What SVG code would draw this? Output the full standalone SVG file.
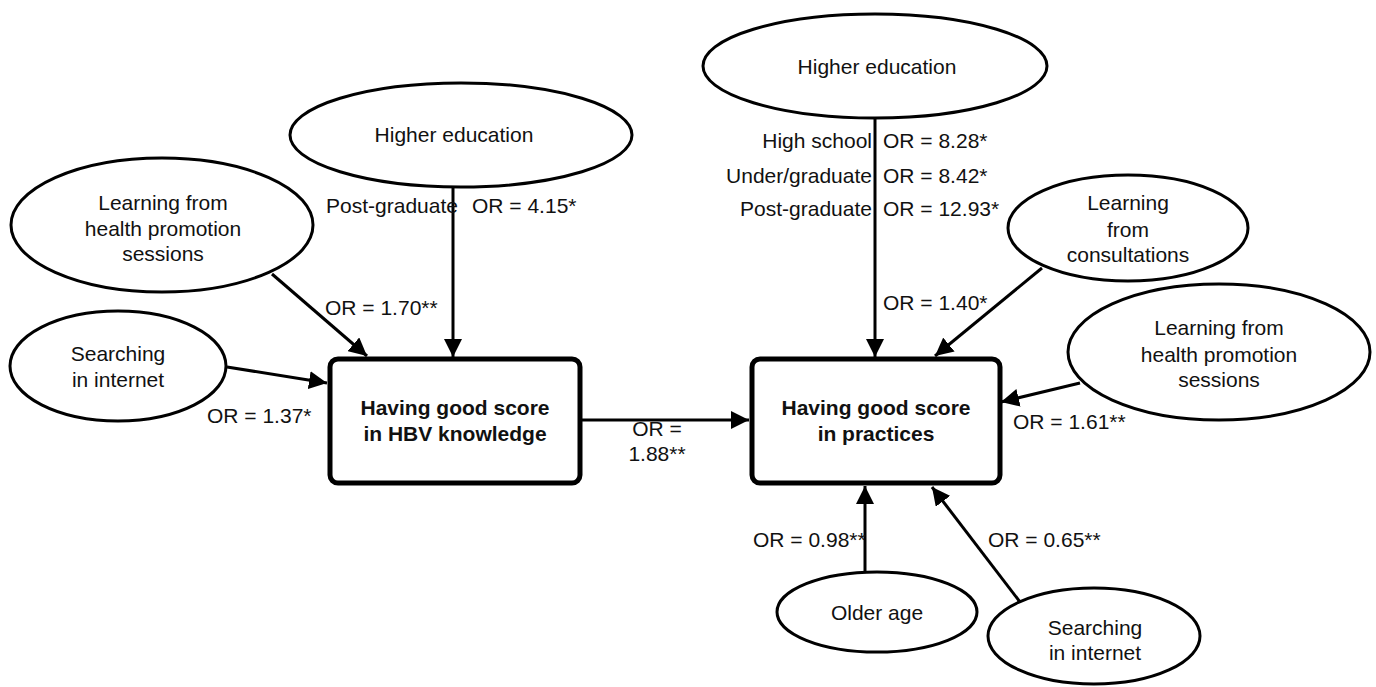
<svg xmlns="http://www.w3.org/2000/svg" width="1376" height="687" viewBox="0 0 1376 687">
<style>
.t{font-family:"Liberation Sans",Arial,sans-serif;font-size:21px;fill:#111;}
.c{text-anchor:middle;}
.e{text-anchor:end;}
.b{font-weight:bold;}
.el{fill:#fff;stroke:#000;stroke-width:3;}
.bx{fill:#fff;stroke:#000;stroke-width:5;}
.ln{stroke:#000;stroke-width:3;fill:none;marker-end:url(#arr);}
</style>
<defs>
<marker id="arr" markerUnits="userSpaceOnUse" markerWidth="18" markerHeight="18" viewBox="0 0 16 16" refX="16" refY="8" orient="auto">
<path d="M0,0 L16,8 L0,16 z" fill="#000"/>
</marker>
</defs>
<rect width="1376" height="687" fill="#fff"/>
<g id="connectors">
<line class="ln" x1="453" y1="187" x2="453" y2="357"/>
<line class="ln" x1="272" y1="274" x2="367" y2="356"/>
<line class="ln" x1="227" y1="367" x2="327" y2="383"/>
<line class="ln" x1="582" y1="420" x2="749" y2="420"/>
<line class="ln" x1="875" y1="118" x2="875" y2="357"/>
<line class="ln" x1="1042" y1="268" x2="935" y2="356"/>
<line class="ln" x1="1080" y1="383" x2="1001" y2="402"/>
<line class="ln" x1="865" y1="572" x2="865" y2="486"/>
<line class="ln" x1="1020" y1="602" x2="932" y2="487"/>
</g>
<g id="leftHE"><ellipse class="el" cx="461" cy="135" rx="171" ry="52"/><text class="t c" x="454" y="142">Higher education</text></g>
<g id="leftHP"><ellipse class="el" cx="162" cy="225" rx="151" ry="67"/><text class="t c" x="163" y="210">Learning from</text><text class="t c" x="163" y="236">health promotion</text><text class="t c" x="163" y="261">sessions</text></g>
<g id="leftSearch"><ellipse class="el" cx="118" cy="366" rx="108" ry="55"/><text class="t c" x="118" y="361">Searching</text><text class="t c" x="118" y="387">in internet</text></g>
<g id="knowledge"><rect class="bx" x="330" y="359" width="250" height="124" rx="8"/><text class="t c b" x="455" y="415">Having good score</text><text class="t c b" x="455" y="441">in HBV knowledge</text></g>
<g id="practices"><rect class="bx" x="752" y="359" width="248" height="124" rx="8"/><text class="t c b" x="876" y="415">Having good score</text><text class="t c b" x="876" y="441">in practices</text></g>
<g id="rightHE"><ellipse class="el" cx="875" cy="66" rx="172" ry="52"/><text class="t c" x="877" y="74">Higher education</text></g>
<g id="consult"><ellipse class="el" cx="1128" cy="228" rx="120" ry="53"/><text class="t c" x="1128" y="210">Learning</text><text class="t c" x="1128" y="237">from</text><text class="t c" x="1128" y="262">consultations</text></g>
<g id="rightHP"><ellipse class="el" cx="1219" cy="352" rx="151" ry="68"/><text class="t c" x="1219" y="335">Learning from</text><text class="t c" x="1219" y="362">health promotion</text><text class="t c" x="1219" y="387">sessions</text></g>
<g id="older"><ellipse class="el" cx="877" cy="612" rx="100" ry="40"/><text class="t c" x="877" y="620">Older age</text></g>
<g id="rightSearch"><ellipse class="el" cx="1094" cy="636" rx="106" ry="48"/><text class="t c" x="1095" y="635">Searching</text><text class="t c" x="1095" y="660">in internet</text></g>
<g id="labels">
<text class="t e" x="458" y="213">Post-graduate</text>
<text class="t" x="472" y="213">OR = 4.15*</text>
<text class="t" x="325" y="315">OR = 1.70**</text>
<text class="t" x="207" y="423">OR = 1.37*</text>
<text class="t c" x="657" y="436">OR =</text>
<text class="t c" x="657" y="461">1.88**</text>
<text class="t e" x="872" y="148">High school</text>
<text class="t" x="883" y="148">OR = 8.28*</text>
<text class="t e" x="872" y="183">Under/graduate</text>
<text class="t" x="883" y="183">OR = 8.42*</text>
<text class="t e" x="872" y="216">Post-graduate</text>
<text class="t" x="883" y="216">OR = 12.93*</text>
<text class="t" x="883" y="310">OR = 1.40*</text>
<text class="t" x="1013" y="429">OR = 1.61**</text>
<text class="t" x="753" y="547">OR = 0.98**</text>
<text class="t" x="988" y="547">OR = 0.65**</text>
</g>
</svg>
